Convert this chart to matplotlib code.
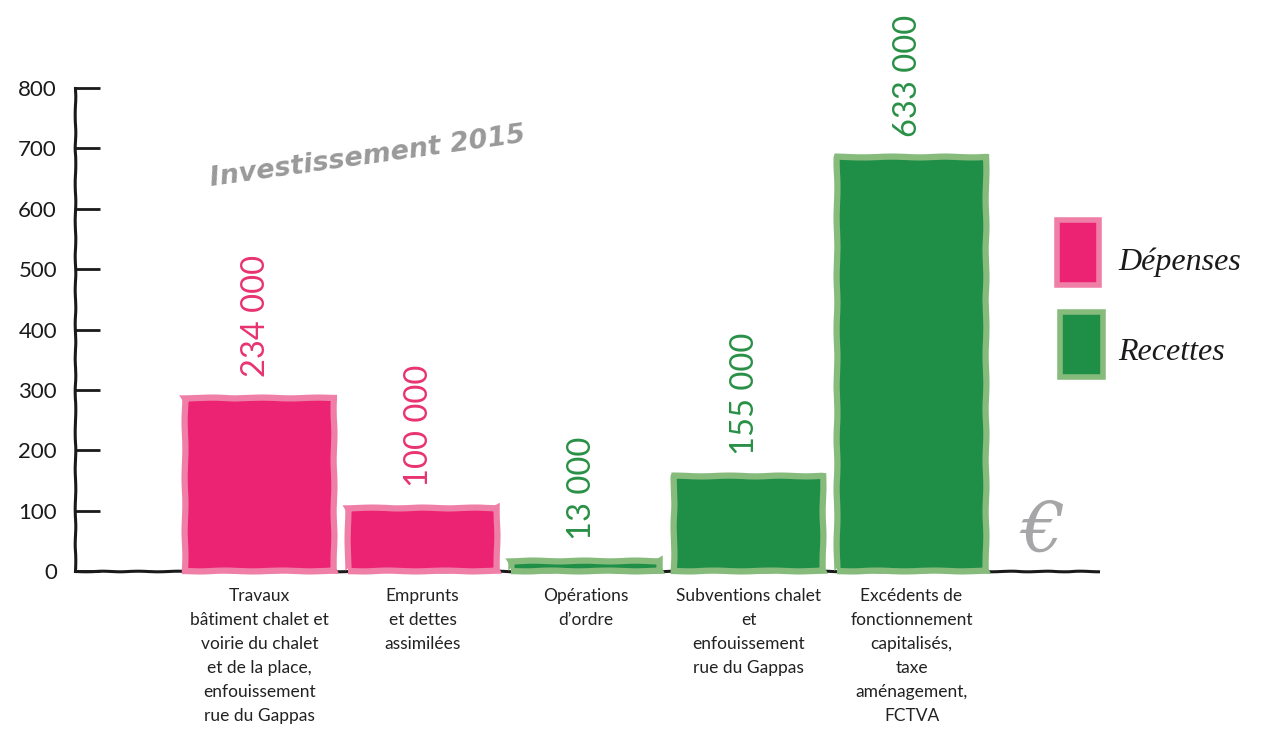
import matplotlib
matplotlib.use("Agg")
import matplotlib.pyplot as plt
from matplotlib.patches import Rectangle

# ---------------- data ----------------
categories = [
    "Travaux\nbâtiment chalet et\nvoirie du chalet\net de la place,\nenfouissement\nrue du Gappas",
    "Emprunts\net dettes\nassimilées",
    "Opérations\nd’ordre",
    "Subventions chalet\net\nenfouissement\nrue du Gappas",
    "Excédents de\nfonctionnement\ncapitalisés,\ntaxe\naménagement,\nFCTVA",
]
bar_heights = [287, 104, 17, 158, 685]
value_labels = ["234 000", "100 000", "13 000", "155 000", "633 000"]
bar_series = ["Dépenses", "Dépenses", "Recettes", "Recettes", "Recettes"]
legend_labels = ["Dépenses", "Recettes"]
y_ticks = [0, 100, 200, 300, 400, 500, 600, 700, 800]
title_text = "Investissement 2015"

# ---------------- style ----------------
fill = {"Dépenses": "#ec2272", "Recettes": "#1f8f48"}
edge = {"Dépenses": "#f07fa8", "Recettes": "#86bb7c"}
text_col = {"Dépenses": "#e8336f", "Recettes": "#2a9046"}

W, H = 1267, 742
fig = plt.figure(figsize=(W / 100, H / 100), dpi=100)
ax = fig.add_axes([75 / W, (H - 571) / H, (1098 - 75) / W, (571 - 88) / H])
ax.set_ylim(0, 800)
ax.set_xlim(-1.132, 5.144)

x = list(range(len(categories)))
bars = ax.bar(x, bar_heights, width=0.914,
              color=[fill[s] for s in bar_series],
              edgecolor=[edge[s] for s in bar_series],
              linewidth=4.5, zorder=3, clip_on=False)
for b in bars:
    b.set_sketch_params(scale=0.4, length=60, randomness=2)

for xi, h, lab, s in zip(x, bar_heights, value_labels, bar_series):
    ax.annotate(lab, (xi - 0.02, h), xytext=(0, 15), textcoords="offset points",
                rotation=90, ha="center", va="bottom", fontsize=23.5,
                family="Lato", color=text_col[s], annotation_clip=False)

# axes styling
for sp in ["top", "right"]:
    ax.spines[sp].set_visible(False)
for sp in ["left", "bottom"]:
    ax.spines[sp].set_linewidth(2.2)
    ax.spines[sp].set_color("#1a1a1a")
    ax.spines[sp].set_sketch_params(scale=0.3, length=40, randomness=2)
    ax.spines[sp].set_zorder(2)

ax.set_yticks(y_ticks)
ax.set_yticklabels([str(v) for v in y_ticks])
ax.tick_params(axis="y", direction="in", length=18, width=2, color="#1a1a1a",
               labelsize=16, pad=13, labelcolor="#1a1a1a")
for lbl in ax.get_yticklabels():
    lbl.set_family("Lato")

ax.set_xticks(x)
ax.set_xticklabels(categories, fontsize=12.5, linespacing=1.62,
                   family="Lato", color="#222222", va="top")
ax.tick_params(axis="x", length=0, pad=12)

# title
fig.text(368 / W, 1 - 157 / H, title_text, rotation=8, rotation_mode="anchor",
         ha="center", va="center", fontsize=19.5, fontweight="bold",
         style="italic", color="#999999", family="DejaVu Sans")

# legend
leg_boxes = [(1057, 220, 42, 65), (1060, 312, 43, 65)]
leg_text_y = [262, 352]
for (lx, ly, lw_, lh), lab, ty in zip(leg_boxes, legend_labels, leg_text_y):
    r = Rectangle((lx / W, 1 - (ly + lh) / H), lw_ / W, lh / H,
                  transform=fig.transFigure, facecolor=fill[lab],
                  edgecolor=edge[lab], linewidth=4)
    fig.patches.append(r)
    fig.text(1118 / W, 1 - ty / H, lab, ha="left", va="center", fontsize=23,
             family="Liberation Serif", style="italic", color="#1a1a1a")

# euro sign
fig.text(1043 / W, 1 - 533 / H, "€", ha="center", va="center", fontsize=50,
         style="italic", color="#a6a6a8", family="DejaVu Serif")

fig.savefig("out.png", dpi=100)
